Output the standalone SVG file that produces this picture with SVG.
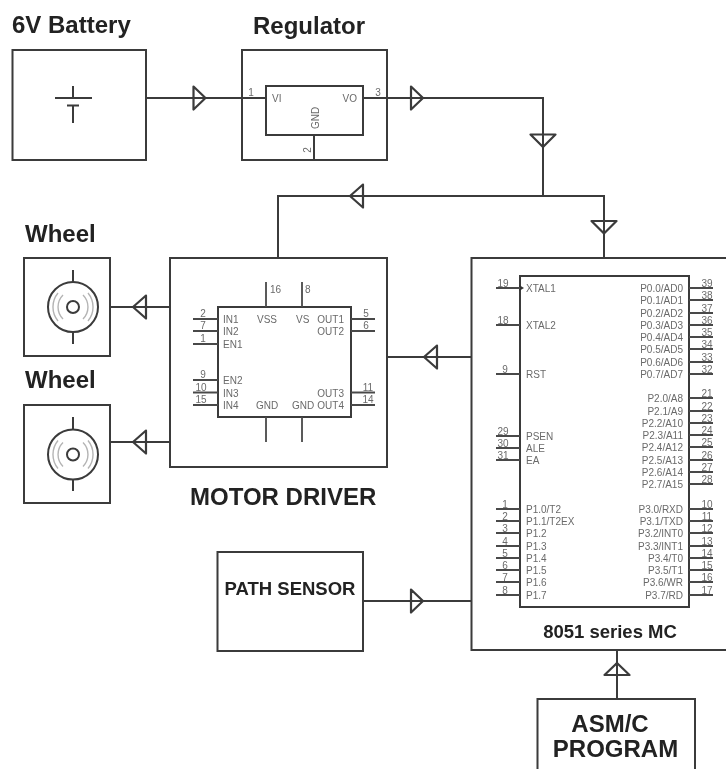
<svg xmlns="http://www.w3.org/2000/svg" width="726" height="769" viewBox="0 0 726 769">
<style>
.l{fill:none;stroke:#3a3a3a;stroke-width:2}
.p{fill:none;stroke:#4a4a4a;stroke-width:1.8}
.t{fill:none;stroke:#3a3a3a;stroke-width:2.2;stroke-linejoin:round}
.h{font-family:"Liberation Sans",Arial,sans-serif;font-weight:700;font-size:24px;fill:#222}
.s{font-family:"Liberation Sans",Arial,sans-serif;font-size:10px;fill:#6a6a6a}
.e{text-anchor:end}
.m{text-anchor:middle}
.g{fill:none;stroke:#b4b4b4;stroke-width:1.4}
</style>
<defs>
<filter id="b" x="-5%" y="-5%" width="110%" height="110%"><feGaussianBlur stdDeviation="0.6"/></filter>
<polygon id="ar" class="t" points="0,-11.500 12,0 0,11.500"/>
<polygon id="al" class="t" points="0,-11.500 -13,0 0,11.500"/>
<polygon id="au" class="t" points="-12.500,0 0,-12 12.500,0"/>
<polygon id="ad" class="t" points="-12.500,0 0,12.500 12.500,0"/>
</defs>
<rect width="726" height="769" fill="#fff"/>
<g filter="url(#b)">
<g id="connectors">
<path class="l" d="M146 98H266M363 98H543V196M604 258V196H278V258"/>
<path class="l" d="M110 307H170M110 442H170M387 357H471M363 601H471M617 650V699"/>
<use href="#ar" x="193.500" y="98"/>
<use href="#ar" x="411" y="98"/>
<use href="#ad" x="543" y="134.500"/>
<use href="#al" x="363" y="196"/>
<use href="#ad" x="604" y="221"/>
<use href="#al" x="146" y="307"/>
<use href="#al" x="146" y="442"/>
<use href="#al" x="437" y="357"/>
<use href="#ar" x="411" y="601"/>
<use href="#au" x="617" y="675"/>
</g>
<g id="battery">
<rect class="l" x="12.500" y="50" width="133.500" height="110"/>
<path class="l" d="M55 98H92M73 86V98M67 105.500H79M73 105.500V123"/>
<text class="h" x="12" y="33">6V Battery</text>
</g>
<g id="regulator">
<rect class="l" x="242" y="50" width="145" height="110"/>
<rect class="l" x="266" y="86" width="97" height="49"/>
<path class="l" d="M314 135V160"/>
<text class="s" x="272" y="102">VI</text>
<text class="s e" x="357" y="102">VO</text>
<text class="s m" x="0" y="0" transform="translate(319,118) rotate(-90)">GND</text>
<text class="s m" x="251" y="96">1</text>
<text class="s m" x="378" y="96">3</text>
<text class="s m" x="0" y="0" transform="translate(311,150) rotate(-90)">2</text>
<text class="h" x="253" y="34">Regulator</text>
</g>
<g id="wheel1">
<rect class="l" x="24" y="258" width="86" height="98"/>
<circle class="l" cx="73" cy="307" r="25"/>
<circle class="l" cx="73" cy="307" r="6"/>
<path class="l" d="M73 270V282M73 332V344"/>
<path class="g" d="M63 295A17 17 0 0 0 63 319M58 293A22 22 0 0 0 58 321M83 295A17 17 0 0 1 83 319M88 293A22 22 0 0 1 88 321"/>
<text class="h" x="25" y="242">Wheel</text>
</g>
<g id="wheel2">
<rect class="l" x="24" y="405" width="86" height="98"/>
<circle class="l" cx="73" cy="454.500" r="25"/>
<circle class="l" cx="73" cy="454.500" r="6"/>
<path class="l" d="M73 417V429.500M73 479.500V491"/>
<path class="g" d="M63 442.500A17 17 0 0 0 63 466.500M58 440.500A22 22 0 0 0 58 468.500M83 442.500A17 17 0 0 1 83 466.500M88 440.500A22 22 0 0 1 88 468.500"/>
<text class="h" x="25" y="388">Wheel</text>
</g>
<g id="motor-driver">
<rect class="l" x="170" y="258" width="217" height="209"/>
<rect class="l" x="218" y="307" width="133" height="110"/>
<path class="p" d="M266 282V307M302 282V307M266 417V442M302 417V442M193 319H218M193 331H218M193 344H218M193 380H218M193 392.500H218M193 405H218M351 319H375M351 331H375M351 392.500H375M351 405H375"/>
<text class="s" x="270" y="293">16</text><text class="s" x="305" y="293">8</text>
<g class="s m">
<text x="203" y="317">2</text><text x="203" y="329">7</text><text x="203" y="342">1</text><text x="203" y="378">9</text><text x="201" y="390.500">10</text><text x="201" y="403">15</text>
<text x="366" y="317">5</text><text x="366" y="329">6</text><text x="368" y="390.500">11</text><text x="368" y="403">14</text>
</g>
<text class="s" x="223" y="323">IN1</text><text class="s" x="223" y="335">IN2</text><text class="s" x="223" y="348">EN1</text>
<text class="s" x="223" y="384">EN2</text><text class="s" x="223" y="396.500">IN3</text><text class="s" x="223" y="409">IN4</text>
<text class="s" x="257" y="323">VSS</text><text class="s" x="296" y="323">VS</text>
<text class="s" x="256" y="409">GND</text><text class="s" x="292" y="409">GND</text>
<text class="s e" x="344" y="323">OUT1</text><text class="s e" x="344" y="335">OUT2</text><text class="s e" x="344" y="396.500">OUT3</text><text class="s e" x="344" y="409">OUT4</text>
<text class="h" x="190" y="505">MOTOR DRIVER</text>
</g>
<g id="path-sensor">
<rect class="l" x="217.500" y="552" width="145.500" height="99"/>
<text x="290" y="595" class="h m" style="font-size:18.500px">PATH SENSOR</text>
</g>
<g id="mc">
<path class="l" d="M728 258H471.500V650H728"/>
<rect class="l" x="520" y="276" width="169" height="331"/>
<path d="M519 285L524 288L519 291Z" fill="#333"/>
<path class="p" d="M496 288H520M496 325H520M496 374H520M496 436H520M496 448H520M496 460H520M496 509H520M496 521H520M496 533H520M496 546H520M496 558H520M496 570H520M496 582H520M496 595H520"/>
<path class="p" d="M689 288H713M689 300H713M689 313H713M689 325H713M689 337H713M689 349H713M689 362H713M689 374H713M689 398H713M689 411H713M689 423H713M689 435H713M689 447H713M689 460H713M689 472H713M689 484H713M689 509H713M689 521H713M689 533H713M689 546H713M689 558H713M689 570H713M689 582H713M689 595H713"/>
<g class="s m">
<text x="503" y="287">19</text><text x="503" y="324">18</text><text x="505" y="373">9</text><text x="503" y="435">29</text><text x="503" y="447">30</text><text x="503" y="459">31</text>
<text x="505" y="508">1</text><text x="505" y="520">2</text><text x="505" y="532">3</text><text x="505" y="545">4</text><text x="505" y="557">5</text><text x="505" y="569">6</text><text x="505" y="581">7</text><text x="505" y="594">8</text>
<text x="707" y="287">39</text><text x="707" y="299">38</text><text x="707" y="312">37</text><text x="707" y="324">36</text><text x="707" y="336">35</text><text x="707" y="348">34</text><text x="707" y="361">33</text><text x="707" y="373">32</text>
<text x="707" y="397">21</text><text x="707" y="410">22</text><text x="707" y="422">23</text><text x="707" y="434">24</text><text x="707" y="446">25</text><text x="707" y="459">26</text><text x="707" y="471">27</text><text x="707" y="483">28</text>
<text x="707" y="508">10</text><text x="707" y="520">11</text><text x="707" y="532">12</text><text x="707" y="545">13</text><text x="707" y="557">14</text><text x="707" y="569">15</text><text x="707" y="581">16</text><text x="707" y="594">17</text>
</g>
<g class="s">
<text x="526" y="292">XTAL1</text><text x="526" y="329">XTAL2</text><text x="526" y="378">RST</text><text x="526" y="440">PSEN</text><text x="526" y="452">ALE</text><text x="526" y="464">EA</text>
<text x="526" y="513">P1.0/T2</text><text x="526" y="525">P1.1/T2EX</text><text x="526" y="537">P1.2</text><text x="526" y="550">P1.3</text><text x="526" y="562">P1.4</text><text x="526" y="574">P1.5</text><text x="526" y="586">P1.6</text><text x="526" y="599">P1.7</text>
</g>
<g class="s e">
<text x="683" y="292">P0.0/AD0</text><text x="683" y="304">P0.1/AD1</text><text x="683" y="317">P0.2/AD2</text><text x="683" y="329">P0.3/AD3</text><text x="683" y="341">P0.4/AD4</text><text x="683" y="353">P0.5/AD5</text><text x="683" y="366">P0.6/AD6</text><text x="683" y="378">P0.7/AD7</text>
<text x="683" y="402">P2.0/A8</text><text x="683" y="415">P2.1/A9</text><text x="683" y="427">P2.2/A10</text><text x="683" y="439">P2.3/A11</text><text x="683" y="451">P2.4/A12</text><text x="683" y="464">P2.5/A13</text><text x="683" y="476">P2.6/A14</text><text x="683" y="488">P2.7/A15</text>
<text x="683" y="513">P3.0/RXD</text><text x="683" y="525">P3.1/TXD</text><text x="683" y="537">P3.2/INT0</text><text x="683" y="550">P3.3/INT1</text><text x="683" y="562">P3.4/T0</text><text x="683" y="574">P3.5/T1</text><text x="683" y="586">P3.6/WR</text><text x="683" y="599">P3.7/RD</text>
</g>
<text x="610" y="638" class="h m" style="font-size:18.500px">8051 series MC</text>
</g>
<g id="asm">
<path class="l" d="M537.500 775V699H695V775"/>
<text x="610" y="732" class="h m">ASM/C</text>
<text x="615.500" y="757" class="h m">PROGRAM</text>
</g>
</g>
</svg>
